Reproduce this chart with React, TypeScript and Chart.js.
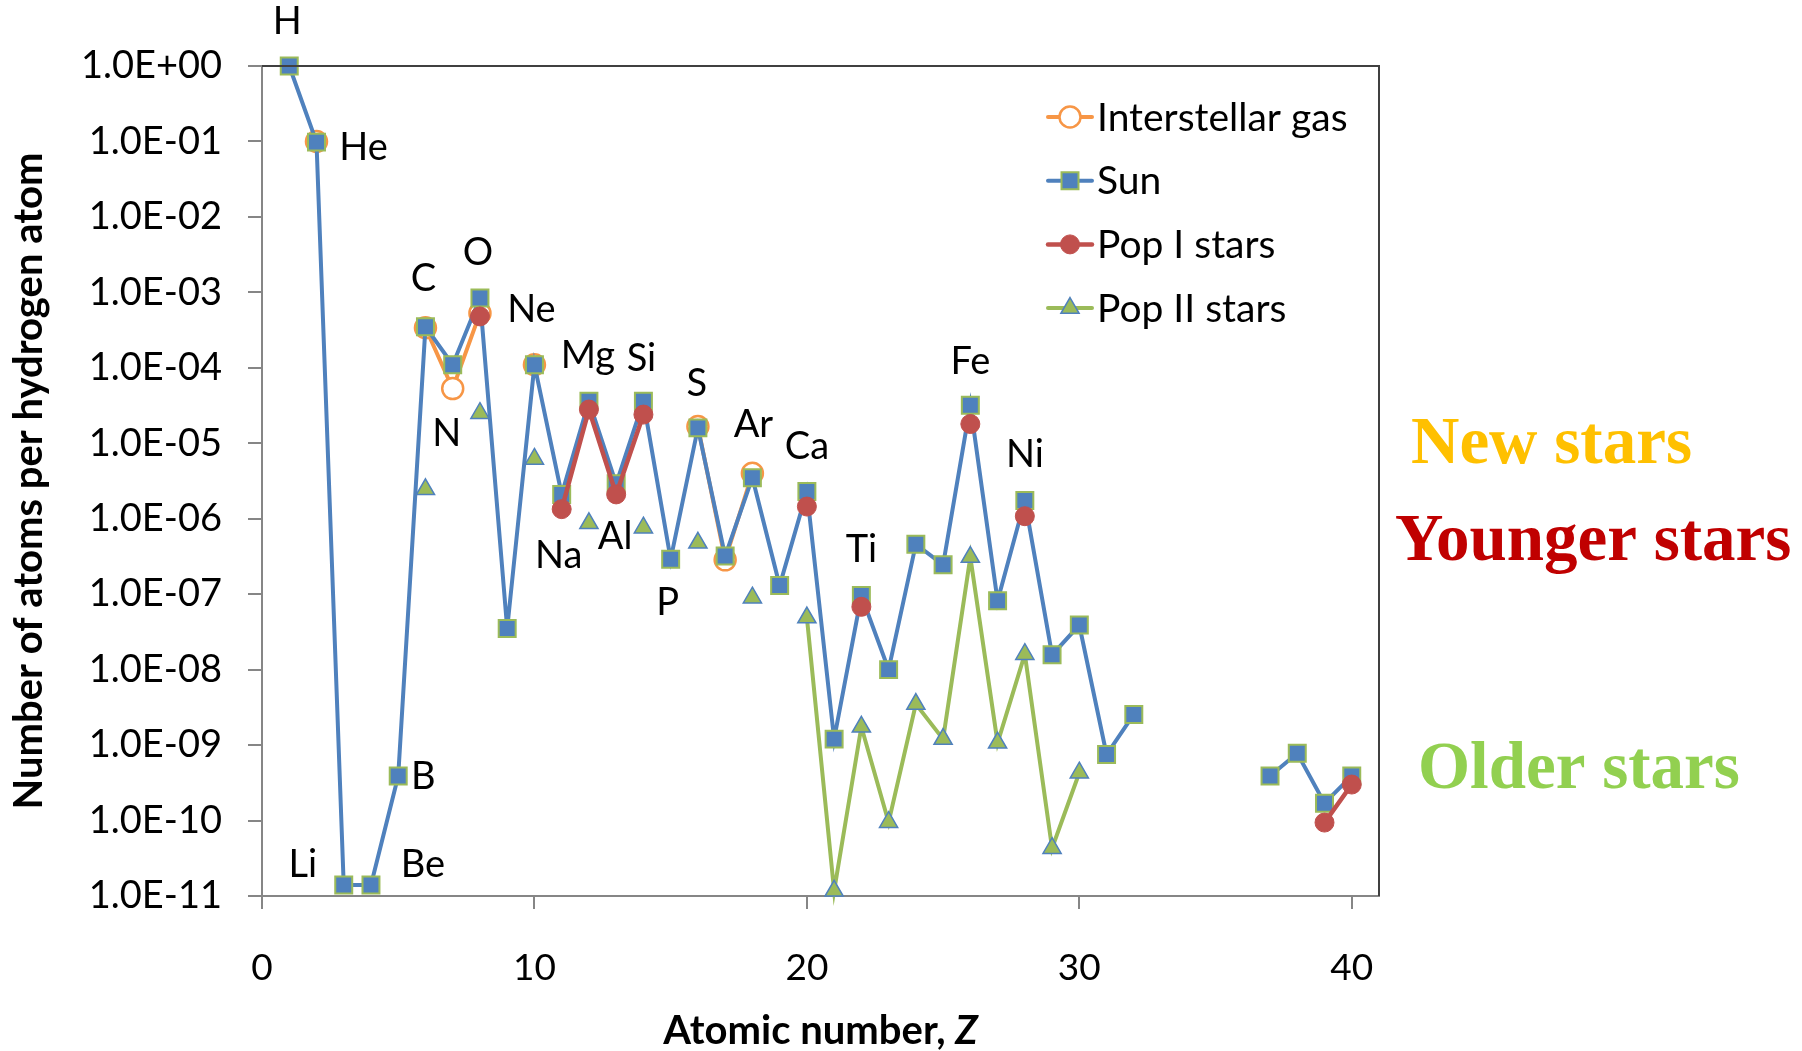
import React, { useEffect, useRef } from 'react';
import { Chart, registerables } from 'chart.js';

Chart.register(...registerables);

const SANS = 'Lato, "Open Sans", "Noto Sans", sans-serif';
const SERIF = '"Liberation Serif", "DejaVu Serif", serif';

// ---------- data ----------
const seriesNames = ['Interstellar gas', 'Sun', 'Pop I stars', 'Pop II stars'];

const interstellarZ = [2, 6, 7, 8, 10, 16, 17, 18];
const interstellarVals = [1.0e-1, 3.4e-4, 5.3e-5, 5.3e-4, 1.1e-4, 1.67e-5, 2.85e-7, 4.0e-6];

const sunZ = [1, 2, 3, 4, 5, 6, 7, 8, 9, 10, 11, 12, 13, 14, 15, 16, 17, 18, 19, 20, 21, 22, 23, 24, 25, 26, 27, 28, 29, 30, 31, 32, 37, 38, 39, 40];
const sunVals = [
  1.0, 9.8e-2, 1.4e-11, 1.4e-11, 3.9e-10, 3.5e-4, 1.1e-4, 8.4e-4, 3.5e-8, 1.1e-4,
  2.1e-6, 3.6e-5, 2.9e-6, 3.6e-5, 2.9e-7, 1.6e-5, 3.2e-7, 3.5e-6, 1.3e-7, 2.3e-6,
  1.2e-9, 9.6e-8, 1.0e-8, 4.6e-7, 2.45e-7, 3.2e-5, 8.2e-8, 1.74e-6, 1.57e-8, 3.9e-8,
  7.5e-10, 2.55e-9, 3.9e-10, 7.8e-10, 1.7e-10, 3.9e-10,
];

const popIZ = [8, 11, 12, 13, 14, 20, 22, 26, 28, 39, 40];
const popIVals = [4.8e-4, 1.34e-6, 2.8e-5, 2.1e-6, 2.4e-5, 1.45e-6, 6.8e-8, 1.8e-5, 1.08e-6, 9.4e-11, 3.0e-10];

const popIIZ = [6, 8, 10, 12, 14, 16, 18, 20, 21, 22, 23, 24, 25, 26, 27, 28, 29, 30];
const popIIVals = [
  2.45e-6, 2.5e-5, 6.2e-6, 8.7e-7, 7.6e-7, 4.8e-7, 9.0e-8, 4.9e-8, 1.17e-11, 1.75e-9,
  9.5e-11, 3.5e-9, 1.2e-9, 3.1e-7, 1.07e-9, 1.6e-8, 4.3e-11, 4.3e-10,
];

const xTickValues = [0, 10, 20, 30, 40];
const yTickExponents = [0, -1, -2, -3, -4, -5, -6, -7, -8, -9, -10, -11];

const elementSymbols = ['H', 'He', 'Li', 'Be', 'B', 'C', 'N', 'O', 'Ne', 'Na', 'Mg', 'Al', 'Si', 'P', 'S', 'Ar', 'Ca', 'Ti', 'Fe', 'Ni'];
const elementZ = [1, 2, 3, 4, 5, 6, 7, 8, 10, 11, 12, 13, 14, 15, 16, 18, 20, 22, 26, 28];

const xTitle = 'Atomic number, ';
const xTitleItalic = 'Z';
const yTitle = 'Number of atoms per hydrogen atom';

const annotationTexts = ['New stars', 'Younger stars', 'Older stars'];

// ---------- styles / positions ----------
// label offsets in px relative to the Sun marker of each element
const elementLabelOffsets: [number, number][] = [
  [-2, -44], [47, 6], [-41, -20], [52, -20], [25, 1], [-2, -48], [-6, 69], [-2, -45],
  [-3, -55], [-3, 61], [-1, -46], [-1, 53], [-2, -43], [-3, 43], [-1, -44], [1, -53],
  [0, -45], [0, -46], [0, -43], [0, -46],
];
const annotationColors = ['#FFC000', '#C00000', '#92D050'];
const annotationPos: [number, number][] = [[1411, 463], [1395, 560], [1418, 788]];

function buildPoints(zs: number[], vals: number[]) {
  const out: { x: number; y: number | null }[] = [];
  const minZ = Math.min(...zs);
  const maxZ = Math.max(...zs);
  for (let z = minZ; z <= maxZ; z++) {
    const i = zs.indexOf(z);
    out.push({ x: z, y: i >= 0 ? vals[i] : null });
  }
  return out;
}

function fmtExp(v: number) {
  const e = Math.round(Math.log10(v));
  return `1.0E${e >= 0 ? '+' : '-'}${String(Math.abs(e)).padStart(2, '0')}`;
}

function drawMarker(ctx: CanvasRenderingContext2D, style: string, x: number, y: number, r: number, fill: string, stroke: string, bw: number) {
  ctx.save();
  ctx.beginPath();
  if (style === 'rect') {
    const s = r * Math.SQRT1_2;
    ctx.rect(x - s, y - s, 2 * s, 2 * s);
  } else if (style === 'triangle') {
    let rad = 0;
    ctx.moveTo(x + Math.sin(rad) * r, y - Math.cos(rad) * r);
    rad += (2 * Math.PI) / 3;
    ctx.lineTo(x + Math.sin(rad) * r, y - Math.cos(rad) * r);
    rad += (2 * Math.PI) / 3;
    ctx.lineTo(x + Math.sin(rad) * r, y - Math.cos(rad) * r);
    ctx.closePath();
  } else {
    ctx.arc(x, y, r, 0, Math.PI * 2);
  }
  ctx.fillStyle = fill;
  ctx.fill();
  if (bw > 0) {
    ctx.lineWidth = bw;
    ctx.strokeStyle = stroke;
    ctx.stroke();
  }
  ctx.restore();
}

const overlayPlugin = {
  id: 'overlay',
  afterDraw(chart: any) {
    const ctx: CanvasRenderingContext2D = chart.ctx;
    const { left, right, top, bottom } = chart.chartArea;
    const xs = chart.scales.x;
    const ys = chart.scales.y;

    // plot area top / right border
    ctx.save();
    ctx.strokeStyle = '#404040';
    ctx.lineWidth = 2;
    ctx.beginPath();
    ctx.moveTo(left, top);
    ctx.lineTo(right, top);
    ctx.lineTo(right, bottom);
    ctx.stroke();
    ctx.restore();

    // element labels
    ctx.save();
    ctx.font = `38px ${SANS}`;
    ctx.fillStyle = '#000';
    ctx.textAlign = 'center';
    ctx.textBaseline = 'middle';
    elementSymbols.forEach((sym, i) => {
      const z = elementZ[i];
      const v = sunVals[sunZ.indexOf(z)];
      const px = xs.getPixelForValue(z) + elementLabelOffsets[i][0];
      const py = ys.getPixelForValue(v) + elementLabelOffsets[i][1];
      ctx.fillText(sym, px, py);
    });
    ctx.restore();

    // legend
    const lx0 = right - 331;
    const lx1 = right - 287;
    const ly0 = 117;
    const lstep = 63.7;
    chart.data.datasets.forEach((ds: any, i: number) => {
      const y = ly0 + i * lstep;
      ctx.save();
      ctx.strokeStyle = ds.borderColor;
      ctx.lineWidth = ds.borderWidth;
      ctx.lineCap = 'round';
      ctx.beginPath();
      ctx.moveTo(lx0, y);
      ctx.lineTo(lx1, y);
      ctx.stroke();
      ctx.restore();
      drawMarker(ctx, ds.pointStyle, (lx0 + lx1) / 2, y, ds.pointRadius, ds.pointBackgroundColor, ds.pointBorderColor, ds.pointBorderWidth);
      ctx.save();
      ctx.font = `39px ${SANS}`;
      ctx.fillStyle = '#000';
      ctx.textAlign = 'left';
      ctx.textBaseline = 'middle';
      ctx.fillText(seriesNames[i], lx1 + 5, y + 1);
      ctx.restore();
    });

    // axis titles
    ctx.save();
    ctx.fillStyle = '#000';
    ctx.font = `bold 40px ${SANS}`;
    const w1 = ctx.measureText(xTitle).width;
    ctx.font = `italic bold 40px ${SANS}`;
    const w2 = ctx.measureText(xTitleItalic).width;
    const startX = (left + right) / 2 - (w1 + w2) / 2;
    ctx.textBaseline = 'alphabetic';
    ctx.textAlign = 'left';
    ctx.font = `bold 40px ${SANS}`;
    ctx.fillText(xTitle, startX, 1044);
    ctx.font = `italic bold 40px ${SANS}`;
    ctx.fillText(xTitleItalic, startX + w1, 1044);

    ctx.translate(29, (top + bottom) / 2);
    ctx.rotate(-Math.PI / 2);
    ctx.font = `bold 40px ${SANS}`;
    ctx.textAlign = 'center';
    ctx.textBaseline = 'middle';
    ctx.fillText(yTitle, 0, 0);
    ctx.restore();

    // right-hand annotations
    ctx.save();
    ctx.font = `bold 67px ${SERIF}`;
    ctx.textAlign = 'left';
    ctx.textBaseline = 'alphabetic';
    annotationTexts.forEach((t, i) => {
      ctx.fillStyle = annotationColors[i];
      ctx.fillText(t, annotationPos[i][0], annotationPos[i][1]);
    });
    ctx.restore();
  },
};

export default function App() {
  const ref = useRef<HTMLCanvasElement>(null);

  useEffect(() => {
    const canvas = ref.current;
    if (!canvas) return;

    const common = {
      tension: 0,
      spanGaps: false,
      clip: false as any,
    };

    const chart = new Chart(canvas, {
      type: 'line',
      data: {
        datasets: [
          {
            ...common,
            label: seriesNames[0],
            data: buildPoints(interstellarZ, interstellarVals),
            borderColor: '#F79646',
            borderWidth: 4,
            pointStyle: 'circle',
            pointRadius: 10.5,
            pointBackgroundColor: '#FFFFFF',
            pointBorderColor: '#F79646',
            pointBorderWidth: 2.5,
            order: 4,
          },
          {
            ...common,
            label: seriesNames[1],
            data: buildPoints(sunZ, sunVals),
            borderColor: '#4F81BD',
            borderWidth: 4,
            pointStyle: 'rect',
            pointRadius: 12,
            pointBackgroundColor: '#4F81BD',
            pointBorderColor: '#9BBB59',
            pointBorderWidth: 2,
            order: 3,
          },
          {
            ...common,
            label: seriesNames[2],
            data: buildPoints(popIZ, popIVals),
            borderColor: '#C0504D',
            borderWidth: 4.5,
            pointStyle: 'circle',
            pointRadius: 9.5,
            pointBackgroundColor: '#C0504D',
            pointBorderColor: '#C0504D',
            pointBorderWidth: 1,
            order: 2,
          },
          {
            ...common,
            label: seriesNames[3],
            data: buildPoints(popIIZ, popIIVals),
            borderColor: '#9BBB59',
            borderWidth: 4,
            pointStyle: 'triangle',
            pointRadius: 10.5,
            pointBackgroundColor: '#9BBB59',
            pointBorderColor: '#4F81BD',
            pointBorderWidth: 1.5,
            order: 1,
          },
        ] as any,
      },
      options: {
        responsive: false,
        animation: false,
        devicePixelRatio: 1,
        events: [],
        layout: { padding: { left: 0, top: 66, right: 423, bottom: 0 } },
        plugins: {
          legend: { display: false },
          tooltip: { enabled: false },
        },
        scales: {
          x: {
            type: 'linear',
            position: 'bottom',
            min: 0,
            max: 41,
            afterBuildTicks: (s: any) => {
              s.ticks = xTickValues.map((v) => ({ value: v }));
            },
            afterFit: (s: any) => {
              s.height = 155;
            },
            ticks: {
              font: { family: SANS, size: 37 },
              color: '#000',
              padding: 37,
              maxRotation: 0,
            },
            grid: {
              display: true,
              drawOnChartArea: false,
              drawTicks: true,
              tickLength: 13,
              color: '#868686',
              lineWidth: 2,
            },
            border: { display: true, color: '#868686', width: 2 },
          },
          y: {
            type: 'logarithmic',
            min: 1e-11,
            max: 1,
            afterBuildTicks: (s: any) => {
              s.ticks = yTickExponents.map((e) => ({ value: Math.pow(10, e) }));
            },
            afterFit: (s: any) => {
              s.width = 262;
            },
            ticks: {
              font: { family: SANS, size: 38 },
              color: '#000',
              padding: 26,
              callback: (v: any) => fmtExp(Number(v)),
            },
            grid: {
              display: true,
              drawOnChartArea: false,
              drawTicks: true,
              tickLength: 14,
              color: '#868686',
              lineWidth: 2,
            },
            border: { display: true, color: '#868686', width: 2 },
          },
        },
      } as any,
      plugins: [overlayPlugin],
    });

    return () => chart.destroy();
  }, []);

  return (
    <div style={{ position: 'absolute', left: 0, top: 0, width: 1802, height: 1051, background: '#ffffff' }}>
      <canvas ref={ref} width={1802} height={1051} style={{ display: 'block', width: 1802, height: 1051 }} />
    </div>
  );
}
